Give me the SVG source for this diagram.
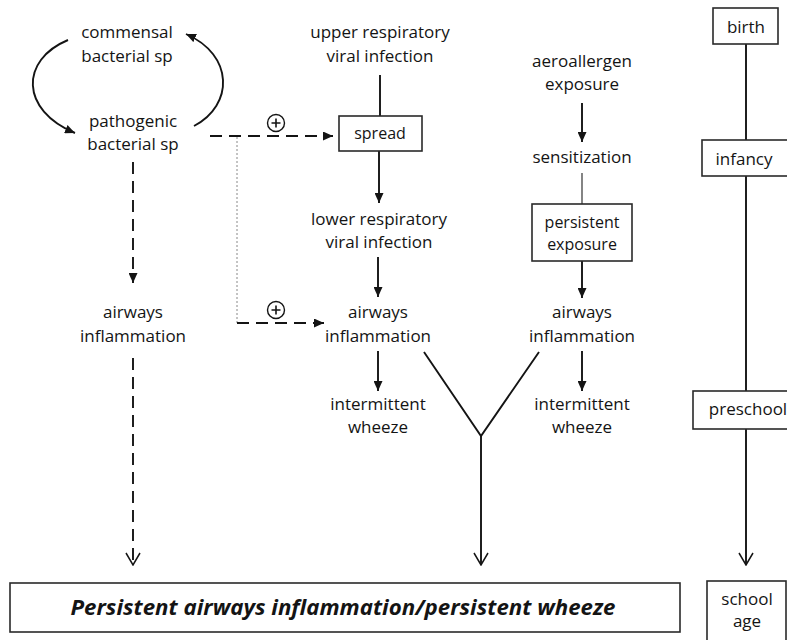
<svg xmlns="http://www.w3.org/2000/svg" width="787" height="640" viewBox="0 0 787 640">
<defs>
<style>
text{font-family:"Open Sans","Noto Sans","Liberation Sans",sans-serif;font-size:17px;fill:#141414;text-anchor:middle}
.sm{font-size:16px}
.big{font-size:22px;font-weight:bold;font-style:italic}
.box{fill:#fff;stroke:#2a2a2a;stroke-width:1.6}
.ln{fill:none;stroke:#141414;stroke-width:1.9}
.thin{fill:none;stroke:#333;stroke-width:1.2}
.dash{fill:none;stroke:#141414;stroke-width:1.9;stroke-dasharray:12 7}
.dot{fill:none;stroke:#888;stroke-width:1;stroke-dasharray:2 2}
.plus{fill:#fff;stroke:#141414;stroke-width:1.4}
</style>
<marker id="ah" markerUnits="userSpaceOnUse" markerWidth="11" markerHeight="9" refX="10" refY="4.5" orient="auto">
<path d="M0,0 L10,4.5 L0,9 z" fill="#141414"/>
</marker>
<marker id="ao" markerUnits="userSpaceOnUse" markerWidth="14" markerHeight="16" refX="13" refY="8" orient="auto">
<path d="M1,1 L13,8 L1,15" fill="none" stroke="#141414" stroke-width="1.5"/>
</marker>
</defs>
<rect width="787" height="640" fill="#fff"/>

<g id="connectors">
<path class="ln" d="M68,40 C20,60 20,110 75,133" marker-end="url(#ah)"/>
<path class="ln" d="M194,126 C234,105 234,55 186,34" marker-end="url(#ah)"/>
<path class="dash" d="M210,136 L333,136" marker-end="url(#ah)"/>
<path class="dot" d="M237,137 L237,323"/>
<path class="dash" d="M237,323 L324,323" marker-end="url(#ah)"/>
<path class="dash" d="M133,162 L133,283" marker-end="url(#ah)"/>
<path class="dash" d="M133,358 L133,565" marker-end="url(#ao)"/>
<path class="ln" d="M380,75 L380,116"/>
<path class="ln" d="M379,151 L379,203" marker-end="url(#ah)"/>
<path class="ln" d="M378,257 L378,297" marker-end="url(#ah)"/>
<path class="ln" d="M378,351 L378,391" marker-end="url(#ah)"/>
<path class="ln" d="M582,103 L582,142" marker-end="url(#ah)"/>
<path class="thin" d="M582,173 L582,204"/>
<path class="ln" d="M582,261 L582,298" marker-end="url(#ah)"/>
<path class="ln" d="M582,351 L582,391" marker-end="url(#ah)"/>
<path class="ln" d="M424,352 L481,436 L539,352"/>
<path class="ln" d="M481,436 L481,565" marker-end="url(#ao)"/>
<path class="ln" d="M746,44 L746,140"/>
<path class="ln" d="M746,176 L746,391"/>
<path class="ln" d="M746,429 L746,565" marker-end="url(#ao)"/>
</g>

<g id="plus1"><circle class="plus" cx="276" cy="123" r="8.5"/><path class="ln" style="stroke-width:1.6" d="M271.5,123 L280.5,123 M276,118.5 L276,127.5"/></g>
<g id="plus2"><circle class="plus" cx="276" cy="310" r="8.5"/><path class="ln" style="stroke-width:1.6" d="M271.5,310 L280.5,310 M276,305.5 L276,314.5"/></g>

<g id="commensal"><text x="127" y="38">commensal</text><text x="127" y="62">bacterial sp</text></g>
<g id="pathogenic"><text x="133" y="127">pathogenic</text><text x="133" y="150">bacterial sp</text></g>
<g id="airways1"><text x="133" y="318">airways</text><text x="133" y="342">inflammation</text></g>

<g id="upper"><text x="380" y="38">upper respiratory</text><text x="380" y="62">viral infection</text></g>
<g id="spread"><rect class="box" x="339" y="116" width="83" height="35"/><text class="sm" x="380" y="139">spread</text></g>
<g id="lower"><text x="379" y="225">lower respiratory</text><text x="379" y="248">viral infection</text></g>
<g id="airways2"><text x="378" y="318">airways</text><text x="378" y="342">inflammation</text></g>
<g id="wheeze2"><text x="378" y="410">intermittent</text><text x="378" y="433">wheeze</text></g>

<g id="aero"><text x="582" y="67">aeroallergen</text><text x="582" y="90">exposure</text></g>
<g id="sens"><text x="582" y="163">sensitization</text></g>
<g id="persexp"><rect class="box" x="532" y="204" width="100" height="57"/><text class="sm" x="582" y="228">persistent</text><text class="sm" x="582" y="250">exposure</text></g>
<g id="airways3"><text x="582" y="318">airways</text><text x="582" y="342">inflammation</text></g>
<g id="wheeze3"><text x="582" y="410">intermittent</text><text x="582" y="433">wheeze</text></g>

<g id="birth"><rect class="box" x="713" y="8" width="65" height="36"/><text x="746" y="33">birth</text></g>
<g id="infancy"><rect class="box" x="702" y="140" width="90" height="36"/><text x="744" y="165">infancy</text></g>
<g id="preschool"><rect class="box" x="693" y="391" width="100" height="38"/><text x="748" y="415">preschool</text></g>
<g id="school"><rect class="box" x="707" y="581" width="79" height="65"/><text x="747" y="605">school</text><text x="747" y="627">age</text></g>

<g id="persistent"><rect class="box" x="10" y="583" width="670" height="49"/><text class="big" x="343" y="615" textLength="545" lengthAdjust="spacingAndGlyphs">Persistent airways inflammation/persistent wheeze</text></g>
</svg>
